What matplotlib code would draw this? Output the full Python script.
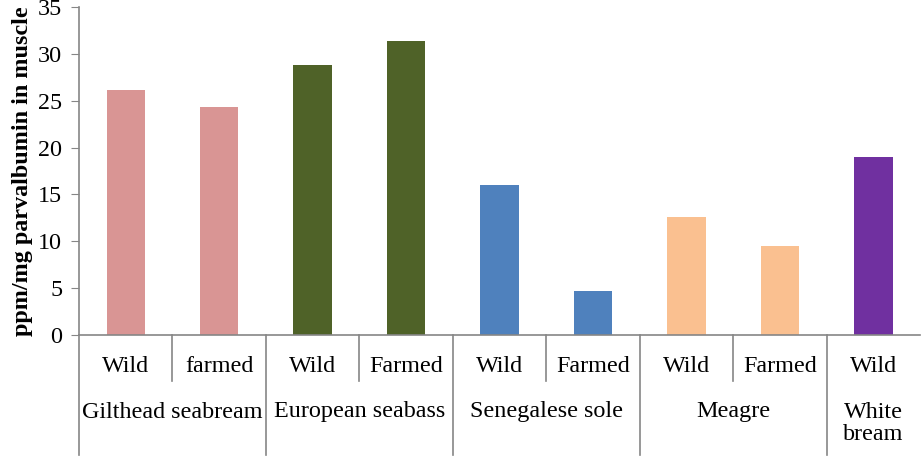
import numpy as np
import matplotlib
matplotlib.use("Agg")
from matplotlib import pyplot as plt

# data
groups = ["Gilthead seabream", "European seabass", "Senegalese sole", "Meagre", "White\nbream"]
group_sizes = [2, 2, 2, 2, 1]
kinds = ["Wild", "farmed", "Wild", "Farmed", "Wild", "Farmed", "Wild", "Farmed", "Wild"]
values = [26.1, 24.3, 28.8, 31.4, 16.0, 4.7, 12.6, 9.5, 19.0]
colors = ["#D99594", "#D99594", "#4F6228", "#4F6228", "#4F81BD", "#4F81BD",
          "#FAC090", "#FAC090", "#7030A0"]

plt.rcParams['font.family'] = ['Liberation Serif', 'DejaVu Serif']
fs = 17.4
grey = "#868686"

fig = plt.figure(figsize=(9.21, 4.75), dpi=100)
ax = fig.add_axes([79/921, 1-335/475, 1-79/921-0.001, 328/475])

x = np.arange(len(values))
ax.bar(x, values, width=0.41, color=colors)
ax.set_xlim(-0.5, len(values) - 0.5)
ax.set_ylim(0, 35)
ax.set_yticks(range(0, 36, 5))
ax.tick_params(axis='y', labelsize=fs, direction='out', length=6, color=grey, pad=6)
ax.set_xticks([])
for s in ["top", "right"]:
    ax.spines[s].set_visible(False)
for s in ["left", "bottom"]:
    ax.spines[s].set_color(grey)
    ax.spines[s].set_linewidth(1.2)
ax.set_ylabel("ppm/mg parvalbumin in muscle", fontsize=fs, fontweight='bold', labelpad=4)

# category labels below the axis
tr = ax.get_xaxis_transform()
h = 328.0
y_sub_line = -46/h
y_grp_line = -120/h
y_sub_txt = -32/h
y_grp_txt = -77/h

for i, k in enumerate(kinds):
    ax.text(i, y_sub_txt, k, transform=tr, ha='center', va='center', fontsize=fs)

start = 0
for g, n in zip(groups, group_sizes):
    # group boundary at the left
    ax.plot([start - 0.5, start - 0.5], [0, y_grp_line], transform=tr, color=grey,
            lw=1.2, clip_on=False)
    for j in range(1, n):
        ax.plot([start + j - 0.5] * 2, [0, y_sub_line], transform=tr, color=grey,
                lw=1.2, clip_on=False)
    cx = start + (n - 1) / 2
    if "\n" in g:
        ax.text(cx, y_grp_txt + 10/h, g, transform=tr, ha='center', va='top',
                fontsize=fs, linespacing=1.05)
    else:
        ax.text(cx, y_grp_txt, g, transform=tr, ha='center', va='center', fontsize=fs)
    start += n

fig.savefig("out.png", dpi=100)
